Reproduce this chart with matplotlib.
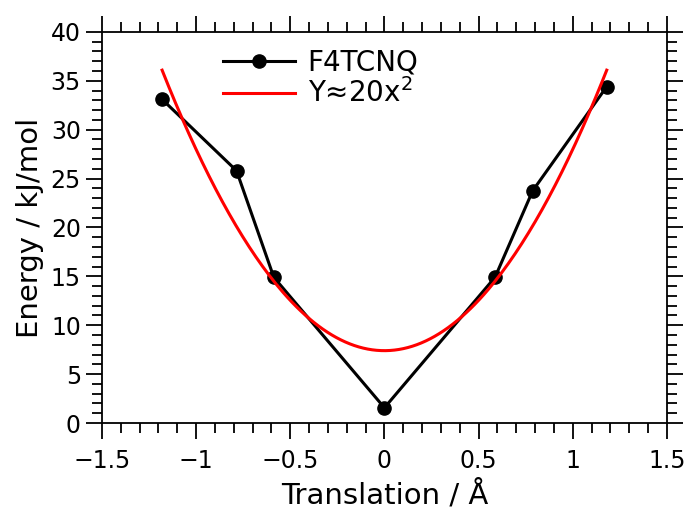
import numpy as np
import matplotlib
matplotlib.use("Agg")
import matplotlib.pyplot as plt
from matplotlib.ticker import MultipleLocator

# scan of the translation energy
translation = [-1.18, -0.785, -0.587, 0.0, 0.587, 0.787, 1.18]
energy = [33.1, 25.8, 14.9, 1.56, 14.9, 23.75, 34.4]

# parabola fitted to the scan: a*x^2 + c
fit_a = 20.6
fit_c = 7.4
fit_range = (-1.18, 1.18)

fig = plt.figure(figsize=(6.88, 5.13), dpi=100)
ax = fig.add_axes([0.148, 0.1754, 0.8215, 0.7625])

ax.plot(translation, energy, 'k-', marker='o', markersize=9.5, linewidth=2.2, label='F4TCNQ')
xs = np.linspace(fit_range[0], fit_range[1], 200)
ax.plot(xs, fit_a * xs**2 + fit_c, color='red', linewidth=2.2, label='Y≈20x$^2$')

ax.set_xlim(-1.5, 1.5)
ax.set_ylim(0, 40)
ax.xaxis.set_major_locator(MultipleLocator(0.5))
ax.xaxis.set_minor_locator(MultipleLocator(0.1))
ax.yaxis.set_major_locator(MultipleLocator(5))
ax.yaxis.set_minor_locator(MultipleLocator(1))
ax.xaxis.set_major_formatter(plt.FuncFormatter(lambda v, p: ('%g' % v).replace('-', '\u2212')))

ax.tick_params(which='both', direction='out', top=True, right=True, width=1.3)
ax.tick_params(which='major', length=11.5, labelsize=17)
ax.tick_params(axis='x', which='major', pad=7)
ax.tick_params(which='minor', length=7)
for s in ax.spines.values():
    s.set_linewidth(1.3)

ax.set_xlabel('Translation / Å', fontsize=21, labelpad=5)
ax.set_ylabel('Energy / kJ/mol', fontsize=21, labelpad=5)

ax.legend(loc='upper left', bbox_to_anchor=(0.17, 1.022), frameon=False,
          handlelength=2.6, handletextpad=0.45, labelspacing=0.08, fontsize=20)

fig.savefig('out.png', dpi=100)
